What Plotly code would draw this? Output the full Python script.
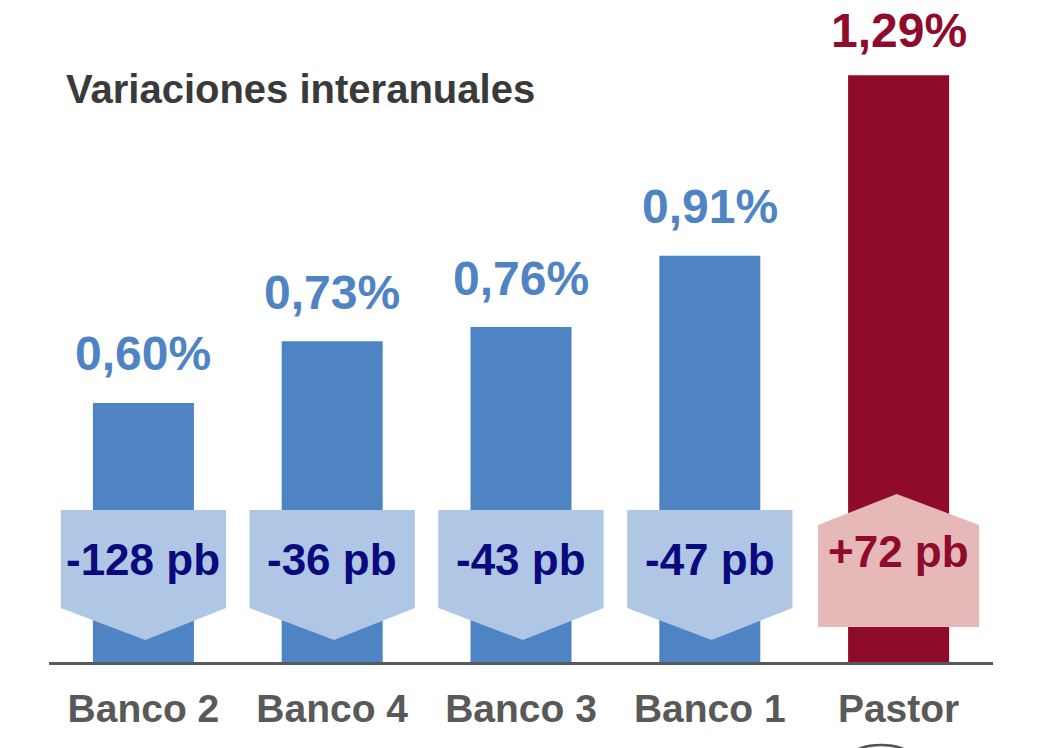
import plotly.graph_objects as go

categories = ["Banco 2", "Banco 4", "Banco 3", "Banco 1", "Pastor"]
values = [0.60, 0.73, 0.76, 0.91, 1.29]
value_labels = ["0,60%", "0,73%", "0,76%", "0,91%", "1,29%"]
change_labels = ["-128 pb", "-36 pb", "-43 pb", "-47 pb", "+72 pb"]
change_dirs = ["down", "down", "down", "down", "up"]
title_text = "Variaciones interanuales"

FONT = "Liberation Sans, Arial, sans-serif"
BLUE = "#4F84C4"
RED = "#8E0B2C"
LIGHT_BLUE = "#AFC6E4"
PINK = "#E6B8B8"
NAVY = "#0A0A7E"
GRAY = "#595959"

bar_colors = [RED if c == "Pastor" else BLUE for c in categories]
x_idx = list(range(len(categories)))

fig = go.Figure()
fig.add_trace(go.Bar(
    x=x_idx, y=values, width=0.535, marker=dict(color=bar_colors, line=dict(width=0)),
    hoverinfo="skip", showlegend=False,
))

shapes = []
annotations = []
for i, (v, vl, cl, d) in enumerate(zip(values, value_labels, change_labels, change_dirs)):
    is_pastor = categories[i] == "Pastor"
    col = RED if is_pastor else BLUE
    annotations.append(dict(
        x=i, y=v, xref="x", yref="y", text=vl, showarrow=False,
        yanchor="middle", yshift=45 if is_pastor else 49,
        font=dict(family=FONT, size=48, color=col, weight="bold"),
    ))
    if d == "down":
        hw, top, side, tip = 0.4377, 0.3747, 0.1684, 0.101
        path = (f"M {i-hw} {top} L {i+hw} {top} L {i+hw} {side} "
                f"L {i+0.01} {tip} L {i-hw} {side} Z")
        fill, tcol, ty = LIGHT_BLUE, NAVY, 0.2695
    else:
        hw, bot, side, tip = 0.4265, 0.1284, 0.3432, 0.4084
        path = (f"M {i-hw} {bot} L {i+hw} {bot} L {i+hw} {side} "
                f"L {i-0.01} {tip} L {i-hw} {side} Z")
        fill, tcol, ty = PINK, RED, 0.2863
    shapes.append(dict(type="path", path=path, xref="x", yref="y",
                       fillcolor=fill, line=dict(width=0), layer="above"))
    annotations.append(dict(
        x=i, y=ty, xref="x", yref="y", text=cl, showarrow=False,
        yanchor="middle",
        font=dict(family=FONT, size=44, color=tcol, weight="bold"),
    ))

annotations.append(dict(
    x=0.0159, y=0.876, xref="paper", yref="paper", text=title_text,
    showarrow=False, xanchor="left", yanchor="middle",
    font=dict(family=FONT, size=40, color="#3A3A3A", weight="bold"),
))

# small partial ellipse at the bottom edge
shapes.append(dict(type="circle", xref="paper", yref="paper",
                   x0=(852 - 49) / 944, x1=(910 - 49) / 944, y0=-0.16, y1=-0.127,
                   line=dict(color="#555555", width=2.5), fillcolor="rgba(0,0,0,0)"))

fig.update_layout(
    width=1041, height=740,
    margin=dict(l=41, r=56, t=0, b=86),
    paper_bgcolor="white", plot_bgcolor="white",
    shapes=shapes, annotations=annotations,
    xaxis=dict(range=[-0.5, 4.5], tickvals=x_idx, ticktext=categories,
               showgrid=False, zeroline=False, showline=True, linecolor=GRAY,
               linewidth=3, ticks="", ticklabelstandoff=10,
               tickfont=dict(family=FONT, size=39, color=GRAY, weight="bold")),
    yaxis=dict(range=[0.0547, 1.4316], visible=False, showgrid=False),
)

fig.write_html("out.html")
